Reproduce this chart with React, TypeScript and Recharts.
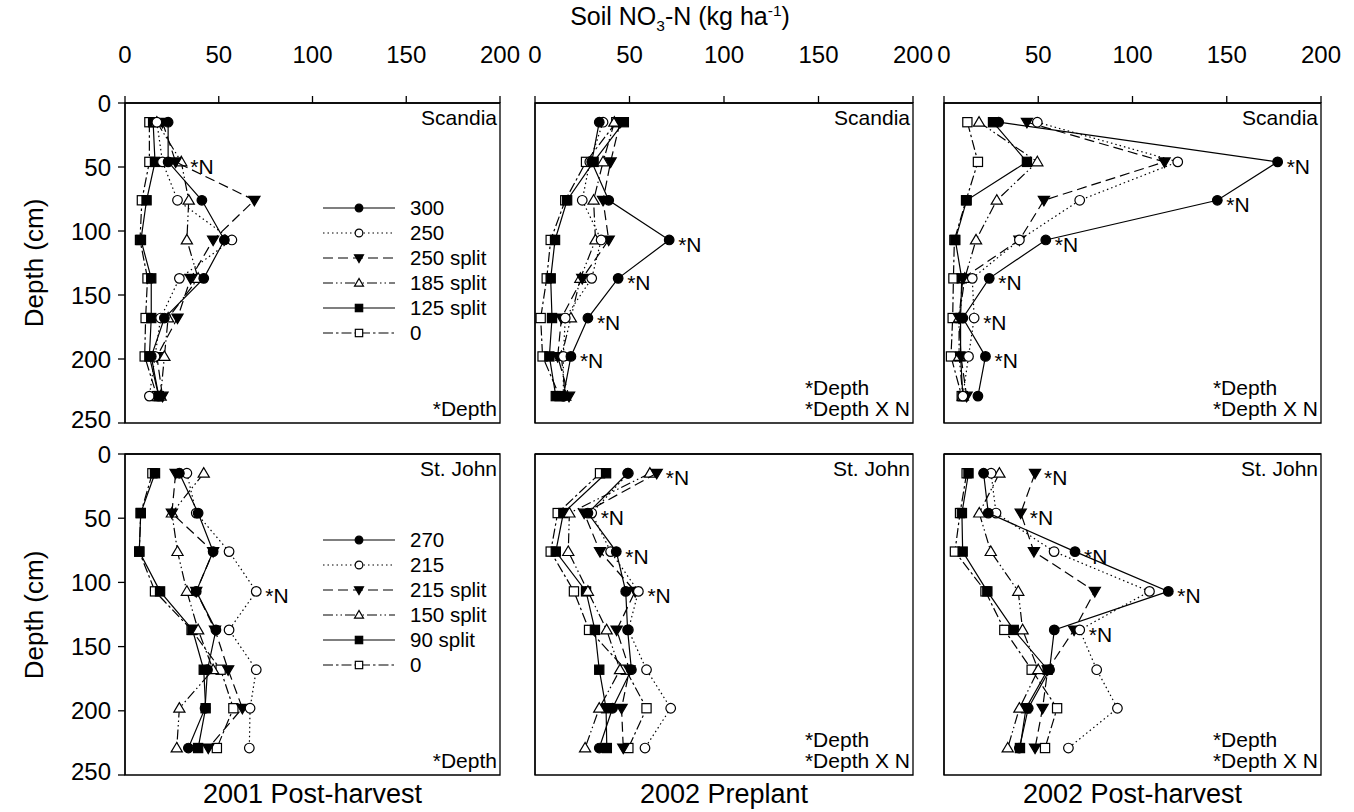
import React from 'react';
import { ScatterChart, Scatter, XAxis, YAxis, ReferenceArea } from 'recharts';

const FONT = '"Liberation Sans", Arial, Helvetica, sans-serif';

const depths = [15, 46, 76, 107, 137, 168, 198, 229];
const xTicks = [0, 50, 100, 150, 200];
const depthTicks = [0, 50, 100, 150, 200, 250];

const scandiaRates = ['300', '250', '250 split', '185 split', '125 split', '0'];
const stJohnRates = ['270', '215', '215 split', '150 split', '90 split', '0'];
const seasons = ['2001 Post-harvest', '2002 Preplant', '2002 Post-harvest'];

// rows follow the rate order, columns follow depths
const scandia2001Post = [
  [23, 23, 41, 53, 42, 21, 14, 18],
  [17, 20, 28, 57, 29, 19, 16, 13],
  [20, 27, 69, 47, 35, 28, 17, 20],
  [17, 30, 34, 33, 39, 23, 21, 19],
  [15, 16, 11.5, 8.5, 14, 14, 13, 18],
  [13, 13, 9, 8, 12, 11, 10.5, 17],
];
const scandia2002Pre = [
  [34, 30, 39, 71, 44, 28, 19, 15],
  [36, 29, 25, 35, 30, 16, 15, 15],
  [45, 40, 36, 39, 25, 14, 12, 18],
  [42, 36, 31, 32, 24, 19, 14, 16],
  [47, 31, 17, 10.6, 8.3, 9, 7.6, 11],
  [43, 27, 16, 8.3, 6.2, 3, 4, 13],
];
const scandia2002Post = [
  [29, 177, 145, 54, 24, 10, 22, 18],
  [49.5, 124, 72, 40, 15, 16, 13, 10],
  [44, 117, 53, 40, 10, 8, 9, 12],
  [18.6, 49.5, 28, 17, 11, 8, 8, 10],
  [26, 44, 12, 6, 9.4, 8.8, 8.8, 10],
  [12.4, 18, 11.7, 5.5, 5, 4.6, 3.7, 9.4],
];
const stJohn2001Post = [
  [29, 39, 47, 38, 48.5, 44, 42.7, 33.8],
  [33, 38, 55.5, 70, 55.5, 70, 66.7, 66.3],
  [27, 25, 47, 38, 48, 55, 62.6, 44.4],
  [42, 25, 28, 33, 39, 47, 29, 27.6],
  [16, 8.4, 7.6, 18.7, 36, 42, 43, 39],
  [14.6, 8.4, 7.6, 16, 35.5, 51, 57.8, 49],
];
const stJohn2002Pre = [
  [49, 28, 43, 48, 49, 51, 41, 34],
  [49.4, 30, 40, 54.7, 49.4, 59, 71.8, 58.2],
  [64.4, 26, 34.4, 53, 43.2, 50, 45.8, 46.7],
  [60.8, 18.2, 17.6, 28, 37.9, 45, 34, 26.5],
  [37.6, 15, 11, 27, 31.7, 34, 37.6, 38],
  [34.4, 12, 8.3, 20.6, 28.6, 48, 59, 49.4],
];
const stJohn2002Post = [
  [21, 23.5, 69.5, 119, 58.5, 56, 44.7, 40],
  [25, 27.6, 58.4, 109, 72, 81, 92, 66],
  [48.3, 40.7, 47.7, 80, 69, 55, 52.3, 48.3],
  [29.4, 18.7, 24.8, 39.4, 41.7, 50, 40, 33.8],
  [13, 9.5, 9.9, 23, 37, 55, 43.5, 40.3],
  [12, 8.5, 5.8, 22, 32, 46.5, 60, 53.6],
];

// significant N effect: [depth index, rate index]
const scandia2001PostN = [[1, 3]];
const scandia2002PreN = [[3, 0], [4, 0], [5, 0], [6, 0]];
const scandia2002PostN = [[1, 0], [2, 0], [3, 0], [4, 0], [5, 1], [6, 0]];
const stJohn2001PostN = [[3, 1]];
const stJohn2002PreN = [[0, 2], [1, 1], [2, 0], [3, 1]];
const stJohn2002PostN = [[0, 2], [1, 2], [2, 0], [3, 0], [4, 1]];

const notes2001 = ['*Depth'];
const notes2002 = ['*Depth', '*Depth X N'];

const seriesStyle = [
  { marker: 'fc', dash: undefined },
  { marker: 'oc', dash: '1.5 3' },
  { marker: 'ft', dash: '10 5' },
  { marker: 'ot', dash: '10 3 1.5 3 1.5 3' },
  { marker: 'fs', dash: undefined },
  { marker: 'os', dash: '10 3 2.5 3' },
];

const cols = [
  { left: 125, right: 500 },
  { left: 535, right: 913 },
  { left: 944, right: 1321 },
];
const rows = [
  { top: 103, bottom: 423, legendTop: 208 },
  { top: 454, bottom: 775, legendTop: 540 },
];

function Marker({ kind, cx, cy, s = 1 }: { kind: string; cx: number; cy: number; s?: number }) {
  const sw = 1.2;
  const r = 4.8 * s;
  const h = 4.6 * s;
  const t = 5.6 * s;
  switch (kind) {
    case 'fc':
      return <circle cx={cx} cy={cy} r={r} fill="#000" stroke="#000" strokeWidth={sw} />;
    case 'oc':
      return <circle cx={cx} cy={cy} r={r} fill="#fff" stroke="#000" strokeWidth={sw} />;
    case 'ft':
      return (
        <polygon
          points={`${cx - t},${cy - t * 0.7} ${cx + t},${cy - t * 0.7} ${cx},${cy + t}`}
          fill="#000"
          stroke="#000"
          strokeWidth={sw}
        />
      );
    case 'ot':
      return (
        <polygon
          points={`${cx},${cy - t} ${cx - t},${cy + t * 0.7} ${cx + t},${cy + t * 0.7}`}
          fill="#fff"
          stroke="#000"
          strokeWidth={sw}
        />
      );
    case 'fs':
      return <rect x={cx - h} y={cy - h} width={h * 2} height={h * 2} fill="#000" stroke="#000" strokeWidth={sw} />;
    default:
      return <rect x={cx - h} y={cy - h} width={h * 2} height={h * 2} fill="#fff" stroke="#000" strokeWidth={sw} />;
  }
}

const pointShape = (kind: string) => (props: any) => {
  const { cx, cy, payload } = props;
  return (
    <g>
      <Marker kind={kind} cx={cx} cy={cy} />
      {payload.n && (
        <text x={cx + 9} y={cy + 12} fontSize={21} fontFamily={FONT} fill="#000">
          *N
        </text>
      )}
    </g>
  );
};

const M_TOP = 80;
const M_LEFT = 70;
const M_RIGHT = 30;

function Panel({ row, col, values, flags, site, notes }: any) {
  const c = cols[col];
  const r = rows[row];
  const w = c.right - c.left + M_LEFT + M_RIGHT;
  const h = r.bottom - r.top + M_TOP + 10;
  const order = [5, 4, 3, 2, 1, 0];
  return (
    <>
      <div style={{ position: 'absolute', left: c.left - M_LEFT, top: r.top - M_TOP }}>
        <ScatterChart width={w} height={h} margin={{ top: 0, right: M_RIGHT, bottom: 10, left: 0 }}>
          <XAxis
            type="number"
            dataKey="x"
            orientation="top"
            domain={[0, 200]}
            ticks={xTicks}
            height={M_TOP}
            tickSize={7}
            tickMargin={33}
            axisLine={{ stroke: '#000', strokeWidth: 1.3 }}
            tickLine={{ stroke: '#000', strokeWidth: 1.3 }}
            tick={row === 0 ? { fill: '#000', fontSize: 24, fontFamily: FONT } : false}
            allowDataOverflow
          />
          <YAxis
            type="number"
            dataKey="y"
            domain={[0, 250]}
            reversed
            ticks={depthTicks}
            width={M_LEFT}
            tickSize={7}
            tickMargin={7}
            axisLine={{ stroke: '#000', strokeWidth: 1.3 }}
            tickLine={{ stroke: '#000', strokeWidth: 1.3 }}
            tick={col === 0 ? { fill: '#000', fontSize: 24, fontFamily: FONT } : false}
            allowDataOverflow
          />
          <ReferenceArea x1={0} x2={200} y1={0} y2={250} fill="none" stroke="#000" strokeWidth={1.3} />
          {order.map((si) => {
            const data = depths.map((d, i) => ({
              x: values[si][i],
              y: d,
              n: flags.some((f: number[]) => f[0] === i && f[1] === si),
            }));
            return (
              <Scatter
                key={si}
                data={data}
                isAnimationActive={false}
                fill="#000"
                line={{ stroke: '#000', strokeWidth: 1.2, strokeDasharray: seriesStyle[si].dash }}
                shape={pointShape(seriesStyle[si].marker)}
              />
            );
          })}
        </ScatterChart>
      </div>
      <div
        style={{
          position: 'absolute',
          right: 1354 - c.right + 3,
          top: r.top + 3,
          fontSize: 21,
          lineHeight: '24px',
          fontFamily: FONT,
          whiteSpace: 'nowrap',
        }}
      >
        {site}
      </div>
      <div
        style={{
          position: 'absolute',
          right: 1354 - c.right + 3,
          bottom: 812 - r.bottom + 4,
          fontSize: 21,
          lineHeight: '21px',
          fontFamily: FONT,
          whiteSpace: 'nowrap',
          textAlign: 'left',
        }}
      >
        {notes.map((t: string) => (
          <div key={t}>{t}</div>
        ))}
      </div>
    </>
  );
}

function RateLegend({ top, labels }: { top: number; labels: string[] }) {
  return (
    <div style={{ position: 'absolute', left: 320, top: top - 12.5, fontFamily: FONT, fontSize: 20.5 }}>
      {labels.map((lab, i) => (
        <div key={lab} style={{ display: 'flex', alignItems: 'center', height: 25 }}>
          <svg width={80} height={20}>
            <line x1={3} x2={75} y1={10} y2={10} stroke="#000" strokeWidth={1.2} strokeDasharray={seriesStyle[i].dash} />
            <Marker kind={seriesStyle[i].marker} cx={39} cy={10} s={0.8} />
          </svg>
          <span style={{ marginLeft: 10, lineHeight: '22px' }}>{lab}</span>
        </div>
      ))}
    </div>
  );
}

export default function App() {
  const panels = [
    { row: 0, col: 0, values: scandia2001Post, flags: scandia2001PostN, site: 'Scandia', notes: notes2001 },
    { row: 0, col: 1, values: scandia2002Pre, flags: scandia2002PreN, site: 'Scandia', notes: notes2002 },
    { row: 0, col: 2, values: scandia2002Post, flags: scandia2002PostN, site: 'Scandia', notes: notes2002 },
    { row: 1, col: 0, values: stJohn2001Post, flags: stJohn2001PostN, site: 'St. John', notes: notes2001 },
    { row: 1, col: 1, values: stJohn2002Pre, flags: stJohn2002PreN, site: 'St. John', notes: notes2002 },
    { row: 1, col: 2, values: stJohn2002Post, flags: stJohn2002PostN, site: 'St. John', notes: notes2002 },
  ];

  return (
    <div
      style={{
        position: 'absolute',
        left: 0,
        top: 0,
        width: 1354,
        height: 812,
        background: '#fff',
        fontFamily: FONT,
        color: '#000',
        overflow: 'hidden',
      }}
    >
      <div
        style={{
          position: 'absolute',
          left: 380,
          width: 600,
          top: 2,
          textAlign: 'center',
          fontSize: 25,
          whiteSpace: 'nowrap',
        }}
      >
        Soil NO<sub style={{ fontSize: '62%' }}>3</sub>-N (kg ha<sup style={{ fontSize: '62%' }}>-1</sup>)
      </div>

      {rows.map((r, i) => (
        <div
          key={i}
          style={{
            position: 'absolute',
            left: 34,
            top: (r.top + r.bottom) / 2,
            transform: 'translate(-50%, -50%) rotate(-90deg)',
            fontSize: 26,
            whiteSpace: 'nowrap',
          }}
        >
          Depth (cm)
        </div>
      ))}

      {panels.map((p, i) => (
        <Panel key={i} {...p} />
      ))}

      <RateLegend top={rows[0].legendTop} labels={scandiaRates} />
      <RateLegend top={rows[1].legendTop} labels={stJohnRates} />

      {seasons.map((s, i) => (
        <div
          key={s}
          style={{
            position: 'absolute',
            left: (cols[i].left + cols[i].right) / 2,
            top: 794,
            transform: 'translate(-50%, -50%)',
            fontSize: 27,
            whiteSpace: 'nowrap',
          }}
        >
          {s}
        </div>
      ))}
    </div>
  );
}
